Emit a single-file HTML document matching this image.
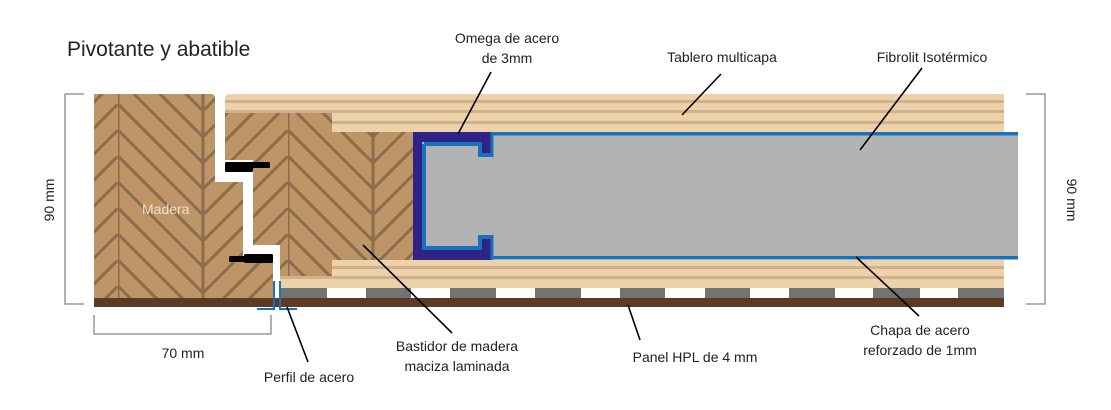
<!DOCTYPE html>
<html><head><meta charset="utf-8"><style>
html,body{margin:0;padding:0;background:#fff;width:1111px;height:410px;overflow:hidden}
svg text{font-family:"Liberation Sans",sans-serif;fill:#222}
</style></head><body>
<svg width="1111" height="410" viewBox="0 0 1111 410" xmlns="http://www.w3.org/2000/svg">
<defs>
<pattern id="hb" x="118" y="0" width="170" height="26" patternUnits="userSpaceOnUse">
<rect width="170" height="26" fill="#BE9567"/>
<g stroke="#8C6D4B" stroke-width="3">
<line x1="0" y1="0" x2="0" y2="26"/>
<line x1="85" y1="0" x2="85" y2="26"/>
<line x1="0" y1="0" x2="85" y2="85"/>
<line x1="0" y1="-26" x2="85" y2="59"/>
<line x1="0" y1="-52" x2="85" y2="33"/>
<line x1="0" y1="-78" x2="85" y2="7"/>
<line x1="170" y1="0" x2="85" y2="85"/>
<line x1="170" y1="-26" x2="85" y2="59"/>
<line x1="170" y1="-52" x2="85" y2="33"/>
<line x1="170" y1="-78" x2="85" y2="7"/>
</g>
</pattern>
</defs>
<text x="67" y="56" font-size="21">Pivotante y abatible</text>

<g stroke="#888" stroke-width="1.3" fill="none">
<polyline points="84,94 65,94 65,304 84,304"/>
<polyline points="1026,94 1045,94 1045,304 1026,304"/>
<polyline points="94,315 94,334 271,334 271,315"/>
</g>
<text transform="translate(54,200) rotate(-90)" text-anchor="middle" font-size="14" fill="#444">90 mm</text>
<text transform="translate(1067,200) rotate(90)" text-anchor="middle" font-size="14" fill="#444">90 mm</text>
<text x="183" y="358" text-anchor="middle" font-size="14">70 mm</text>

<path d="M94,94 H211 Q215,94 215,98 V182 H243 V258 H273 V298 H94 Z" fill="url(#hb)"/>
<path d="M225,113 H414 V279 H280 V245 H253 V160 H225 Z" fill="url(#hb)"/>

<path d="M225,99 Q225,94 230,94 H1004 V132 H332 V113 H225 Z" fill="#EDD1A9"/>
<g fill="#D0B08E">
<rect x="225" y="100" width="779" height="3"/>
<rect x="225" y="110" width="779" height="3"/>
<rect x="332" y="121" width="672" height="3"/>
</g>
<path d="M332,260 H1004 V288 H280 V279 H332 Z" fill="#EDD1A9"/>
<g fill="#D0B08E">
<rect x="332" y="266" width="672" height="3"/>
<rect x="280" y="276" width="724" height="3"/>
</g>

<rect x="280" y="288" width="724" height="10" fill="#fff"/>
<g fill="#737373">
<rect x="280" y="288" width="47" height="10"/>
<rect x="366" y="288" width="45" height="10"/>
<rect x="450" y="288" width="46" height="10"/>
<rect x="535" y="288" width="46" height="10"/>
<rect x="620" y="288" width="45" height="10"/>
<rect x="705" y="288" width="45" height="10"/>
<rect x="789" y="288" width="46" height="10"/>
<rect x="873" y="288" width="47" height="10"/>
<rect x="958" y="288" width="46" height="10"/>
</g>
<rect x="94" y="298" width="910" height="9" fill="#5C3A24"/>

<rect x="225" y="162" width="45" height="6" rx="1.5" fill="#000"/>
<rect x="225" y="164" width="28" height="8" rx="1.5" fill="#000"/>
<rect x="229" y="256" width="44" height="6" rx="1.5" fill="#000"/>
<rect x="244" y="254" width="29" height="9" rx="1.5" fill="#000"/>

<g stroke="#1872BB" stroke-width="2" fill="none">
<polyline points="274,281 274,309 257,309"/>
<polyline points="280,281 280,309 297,309"/>
</g>

<rect x="422" y="132" width="596" height="127" fill="#B3B3B3"/>
<rect x="490" y="132" width="528" height="3.5" fill="#1872BB"/>
<rect x="490" y="256" width="528" height="3.5" fill="#1872BB"/>
<path d="M413,132 H492 V155 H480 V142 H422 V250 H480 V237 H492 V260 H413 Z" fill="#2E2485"/>
<path d="M424,144 H480 V155 H492 M424,144 V248 H480 V237 H492" fill="none" stroke="#1872BB" stroke-width="4"/>
<line x1="492" y1="132" x2="492" y2="157" stroke="#1872BB" stroke-width="3"/>
<line x1="492" y1="235" x2="492" y2="260" stroke="#1872BB" stroke-width="3"/>

<text x="142" y="214" font-size="14" style="fill:#EDE0CC">Madera</text>

<g stroke="#000" stroke-width="1.6">
<line x1="491" y1="72" x2="458" y2="134"/>
<line x1="721" y1="74" x2="682" y2="115"/>
<line x1="922" y1="68" x2="860" y2="150"/>
<line x1="452" y1="333" x2="363" y2="245"/>
<line x1="640" y1="340" x2="628" y2="305"/>
<line x1="919" y1="316" x2="856" y2="257"/>
<line x1="308" y1="362" x2="287" y2="307"/>
</g>
<g font-size="14">
<text x="507" y="43" text-anchor="middle">Omega de acero</text>
<text x="507" y="63" text-anchor="middle">de 3mm</text>
<text x="722" y="62" text-anchor="middle">Tablero multicapa</text>
<text x="932" y="62" text-anchor="middle">Fibrolit Isotérmico</text>
<text x="457" y="351" text-anchor="middle">Bastidor de madera</text>
<text x="457" y="371" text-anchor="middle">maciza laminada</text>
<text x="695" y="362" text-anchor="middle">Panel HPL de 4 mm</text>
<text x="920" y="335" text-anchor="middle">Chapa de acero</text>
<text x="920" y="355" text-anchor="middle">reforzado de 1mm</text>
<text x="309" y="382" text-anchor="middle">Perfil de acero</text>
</g>
</svg>
</body></html>
